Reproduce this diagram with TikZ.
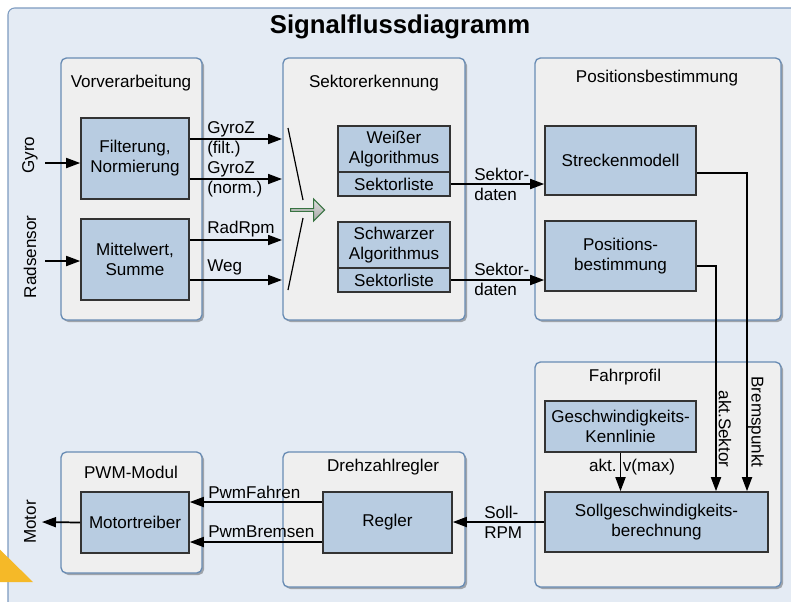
\documentclass[tikz,border=0pt]{standalone}
\usepackage{fontspec}
\setmainfont{Liberation Sans}
\usetikzlibrary{arrows.meta,fit,shapes.arrows,shadows}
\definecolor{panelbg}{RGB}{228,235,244}
\definecolor{panelline}{RGB}{125,155,192}
\definecolor{groupfill}{RGB}{239,239,239}
\definecolor{groupline}{RGB}{105,140,180}
\definecolor{boxfill}{RGB}{184,204,225}
\definecolor{muxgreen}{RGB}{55,115,65}
\definecolor{cornerylw}{RGB}{245,185,40}
\newcommand{\txt}{\fontsize{12.8}{15}\selectfont}
\tikzset{arrow/.style={-{Triangle[length=10.5pt,width=7.5pt]}, line width=1.3pt}}
\tikzset{group/.style={draw=groupline, line width=1pt, fill=groupfill, rounded corners=4pt, inner sep=0pt,
    drop shadow={shadow xshift=1.5pt, shadow yshift=-1.5pt, fill=black, opacity=0.3}}}
\tikzset{block/.style 2 args={draw=black!80, line width=1.2pt, fill=boxfill, inner sep=0pt, align=center, font=\txt,
    minimum width=#1*0.75pt, minimum height=#2*0.75pt}}
\tikzset{lbl/.style={font=\txt, inner sep=0pt, align=left}}

\begin{document}
\begin{tikzpicture}[x=0.75pt, y=-0.75pt]
    \useasboundingbox (0,0) rectangle (791,601);
    \clip (0,0) rectangle (791,601);
    \fill[white] (0,0) rectangle (791,601);
    \draw[panelline, fill=panelbg, line width=0.8pt, rounded corners=5pt] (8,8) rectangle (840,650);
    \fill[cornerylw] (-20,530) -- (33,582) -- (-20,582) -- cycle;

    \node[font=\fontsize{19.3}{22}\selectfont\bfseries] (title) at (400,27) {Signalflussdiagramm};

    \node[group, fit={(61,58) (202,320)}] (vorv) {};
    \node[group, fit={(283,58) (465,320)}] (sekt) {};
    \node[group, fit={(535,58) (781,320)}] (posg) {};
    \node[group, fit={(535,362) (781,587)}] (fahr) {};
    \node[group, fit={(283,452) (465,587)}] (dreh) {};
    \node[group, fit={(61,452) (202,573)}] (pwm) {};

    \node[lbl] (vorvtitle) at (131,83) {Vorverarbeitung};
    \node[lbl] (sekttitle) at (374,83) {Sektorerkennung};
    \node[lbl] (posgtitle) at (657,78) {Positionsbestimmung};
    \node[lbl] (fahrtitle) at (625,377) {Fahrprofil};
    \node[lbl] (drehtitle) at (383,467) {Drehzahlregler};
    \node[lbl] (pwmtitle) at (131,472) {PWM-Modul};

    \node[block={108}{81}] (filt) at (135,158.5) {Filterung,\\Normierung};
    \node[block={108}{81}] (mitt) at (135,259.5) {Mittelwert,\\Summe};
    \node[block={112}{46}] (weiss) at (394,149) {Weißer\\Algorithmus};
    \node[block={112}{24}] (wliste) at (394,184) {Sektorliste};
    \node[block={112}{46}] (schw) at (394,245) {Schwarzer\\Algorithmus};
    \node[block={112}{24}] (sliste) at (394,280) {Sektorliste};
    \node[block={151}{69}] (streck) at (620.5,160.5) {Streckenmodell};
    \node[block={151}{70}] (posb) at (620.5,256) {Positions-\\bestimmung};
    \node[block={151}{51}] (kenn) at (620.5,426.5) {Geschwindigkeits-\\Kennlinie};
    \node[block={223}{60}] (soll) at (656.5,522) {Sollgeschwindigkeits-\\berechnung};
    \node[block={129}{61}] (regler) at (387.5,522.5) {Regler};
    \node[block={108}{61}] (motor) at (135,522.5) {Motortreiber};

    \node[lbl, rotate=90] (gyro) at (30,155) {Gyro};
    \node[lbl, rotate=90] (rad) at (30,257) {Radsensor};
    \node[lbl, rotate=90] (motorlbl) at (30,522) {Motor};

    \coordinate (gyroin) at (45,163);
    \coordinate (radin) at (45,261);
    \coordinate (motorout) at (42,522);
    \coordinate (gzf) at (282,139);
    \coordinate (gzn) at (282,179);
    \coordinate (rpm) at (282,240);
    \coordinate (weg) at (282,280);
    \coordinate (brems) at (747,173);
    \coordinate (akts) at (716,266);
    \coordinate (pwmf) at (0,502);
    \coordinate (pwmb) at (0,542);

    \draw[arrow] (gyroin) -- (gyroin -| filt.west);
    \draw[arrow] (radin) -- (radin -| mitt.west);
    \draw[arrow] (gzf -| filt.east) -- (gzf);
    \draw[arrow] (gzn -| filt.east) -- (gzn);
    \draw[arrow] (rpm -| mitt.east) -- (rpm);
    \draw[arrow] (weg -| mitt.east) -- (weg);
    \node[lbl] (lgzf) at (207,139) [anchor=west] {GyroZ\\(filt.)};
    \node[lbl] (lgzn) at (207,179) [anchor=west] {GyroZ\\(norm.)};
    \node[lbl] (lrpm) at (207,229) [anchor=west] {RadRpm};
    \node[lbl] (lweg) at (207,267) [anchor=west] {Weg};

    \draw[line width=0.9pt] (288,128) -- (303,200);
    \draw[line width=0.9pt] (303,218) -- (288,290);
    \node[single arrow, draw=muxgreen, line width=0.8pt, top color=black!12, bottom color=black!35,
        minimum height=25.5pt, minimum width=16.5pt, single arrow head extend=3pt, inner sep=0pt] (mux) at (307,210) {};

    \draw[arrow] (wliste.east) -- (wliste.east -| streck.west);
    \draw[arrow] (sliste.east) -- (sliste.east -| posb.west);
    \node[lbl] (lsek1) at (474,184) [anchor=west] {Sektor-\\daten};
    \node[lbl] (lsek2) at (474,279) [anchor=west] {Sektor-\\daten};

    \draw[arrow] (brems -| streck.east) -- (brems) -- (brems |- soll.north);
    \draw[arrow] (akts -| posb.east) -- (akts) -- (akts |- soll.north);
    \draw[arrow] (kenn.south) -- (kenn.south |- soll.north);
    \node[lbl, rotate=-90] (lbrems) at (756,422) {Bremspunkt};
    \node[lbl, rotate=-90] (lakts) at (725,429) {akt.Sektor};
    \node[lbl] (lvmax) at (632,467) {akt. v(max)};

    \draw[arrow] (soll.west) -- (soll.west -| regler.east);
    \node[lbl] (lsoll) at (484,522) [anchor=west] {Soll-\\RPM};
    \draw[arrow] (pwmf -| regler.west) -- (pwmf -| motor.east);
    \draw[arrow] (pwmb -| regler.west) -- (pwmb -| motor.east);
    \node[lbl] (lpwmf) at (208,492) [anchor=west] {PwmFahren};
    \node[lbl] (lpwmb) at (208,532) [anchor=west] {PwmBremsen};
    \draw[arrow] (motor.west) -- (motorout);
\end{tikzpicture}
\end{document}
